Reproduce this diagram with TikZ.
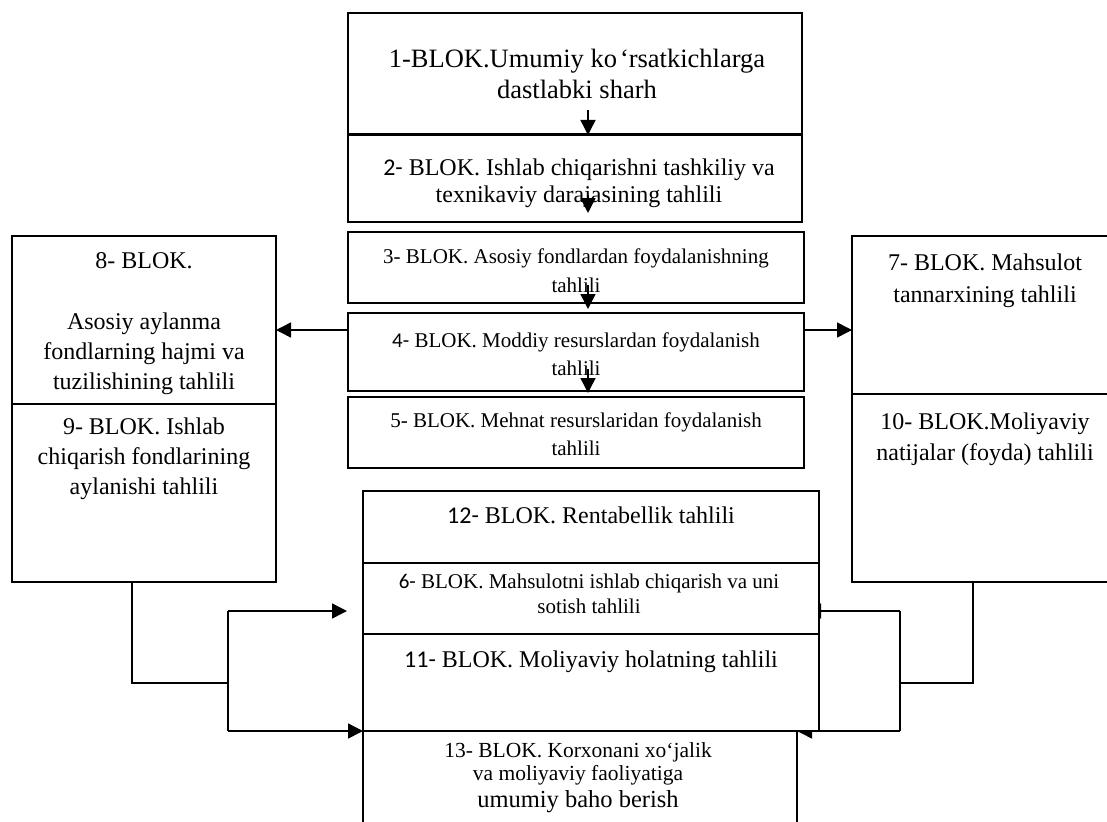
\documentclass[tikz,border=0pt]{standalone}
\usepackage{fontspec}
\setmainfont{Liberation Serif}
\newfontfamily\calfont{Carlito}
\usetikzlibrary{arrows.meta,calc}
\pgfdeclarelayer{bg}
\pgfsetlayers{bg,main}
\newcommand\fsz[2]{\fontsize{#1pt}{#2pt}\selectfont}
\begin{document}
\begin{tikzpicture}[x=1pt,y=-1pt,
  box/.style={draw, line width=1.6pt, fill=white, inner sep=0pt, outer sep=0pt, anchor=north west},
  txt/.style={inner sep=0pt, outer sep=0pt, anchor=north, align=center},
  link/.style={line width=1.5pt},
  arr/.style={line width=1.5pt, -{Triangle[length=15pt,width=15pt]}}]
\useasboundingbox (0,0) rectangle (1107,821);
\clip (0,0) rectangle (1107,821);
% boxes
\node[box, minimum width=454pt, minimum height=121pt] (b1) at (348,13) {};
\node[box, minimum width=454pt, minimum height=87pt] (b2) at (348,135) {};
\node[box, minimum width=456pt, minimum height=71pt] (b3) at (348,232) {};
\node[box, minimum width=456pt, minimum height=78pt] (b4) at (348,313) {};
\node[box, minimum width=456pt, minimum height=71pt] (b5) at (348,397) {};
\node[box, minimum width=264pt, minimum height=168pt] (b8) at (12,236) {};
\node[box, minimum width=264pt, minimum height=178pt] (b9) at (12,404) {};
\node[box, minimum width=270pt, minimum height=158pt] (b7) at (852,236) {};
\node[box, minimum width=270pt, minimum height=188pt] (b10) at (852,394) {};
\node[box, minimum width=456pt, minimum height=72pt] (b12) at (363,491) {};
\node[box, minimum width=456pt, minimum height=71pt] (b6) at (363,563) {};
\node[box, minimum width=456pt, minimum height=97pt] (b11) at (363,634) {};
\node[box, minimum width=434pt, minimum height=109pt] (b13) at (363,731) {};
% texts
\node[txt, font=\fsz{26.5}{31}] (t1) at (577,48.9) {1-BLOK.Umumiy ko\kern3pt‘rsatkichlarga\\dastlabki sharh};
\node[txt, font=\fsz{24}{27}] (t2) at (579,158.6) {{\calfont 2-} BLOK. Ishlab chiqarishni tashkiliy va\\texnikaviy darajasining tahlili};
\node[txt, font=\fsz{21}{29}] (t3) at (576,248.7) {3- BLOK. Asosiy fondlardan foydalanishning\\tahlili};
\node[txt, font=\fsz{21}{28}] (t4) at (576,332.7) {{\calfont 4-} BLOK. Moddiy resurslardan foydalanish\\tahlili};
\node[txt, font=\fsz{21}{28}] (t5) at (576,412.7) {5- BLOK. Mehnat resurslaridan foydalanish\\tahlili};
\node[txt, font=\fsz{24}{30}] (t8) at (144,252.6) {8- BLOK.\\[31pt]Asosiy aylanma\\fondlarning hajmi va\\tuzilishining tahlili};
\node[txt, font=\fsz{24}{30}] (t9) at (144,417.6) {9- BLOK. Ishlab\\chiqarish fondlarining\\aylanishi tahlili};
\node[txt, font=\fsz{24}{32}] (t7) at (985,253.6) {7- BLOK. Mahsulot\\tannarxining tahlili};
\node[txt, font=\fsz{24}{31}] (t10) at (985,412.6) {10- BLOK.Moliyaviy\\natijalar (foyda) tahlili};
\node[txt, font=\fsz{24}{28}] (t12) at (591,506.6) {{\calfont 12-} BLOK. Rentabellik tahlili};
\node[txt, font=\fsz{21}{25}] (t6) at (589,573.7) {{\calfont 6-} BLOK. Mahsulotni ishlab chiqarish va uni\\sotish tahlili};
\node[txt, font=\fsz{24}{28}] (t11) at (591,650.6) {{\calfont 11-} BLOK. Moliyaviy holatning tahlili};
\node[txt, font=\fsz{21.5}{23}] (t13) at (578,742.3) {13- BLOK. Korxonani xo‘jalik\\va moliyaviy faoliyatiga\\[4pt]{\fsz{24.5}{23}umumiy baho berish}};
% coordinates
\coordinate (s12) at (588,110);
\coordinate (s23) at (588,195);
\coordinate (e23) at (588,213);
\coordinate (s34) at (588,285);
\coordinate (e34) at (588,309);
\coordinate (s45) at (588,369);
\coordinate (e45) at (588,393);
\coordinate (h4) at (576,330);
\coordinate (l9) at (132,683);
\coordinate (lj) at (228,683);
\coordinate (lt) at (228,611);
\coordinate (lb) at (228,731);
\coordinate (r10) at (973,683);
\coordinate (rj) at (900,683);
\coordinate (rt) at (900,611);
\coordinate (rb) at (900,731);
% connectors on top
\draw[arr] (s12) -- (s12 |- b2.north);
\draw[arr] (s23) -- (e23);
\draw[arr] (s34) -- (e34);
\draw[arr] (s45) -- (e45);
\draw[arr] (h4 -| b4.west) -- (h4 -| b8.east);
\draw[arr] (h4 -| b4.east) -- (h4 -| b7.west);
\draw[link] (l9 |- b9.south) -- (l9) -- (lj);
\draw[link] (lt) -- (lb);
\draw[arr] (lt) -- ($(lt -| b6.west)+(-16,0)$);
\draw[arr] (lb) -- (lb -| b13.west);
% connectors partly hidden behind boxes
\begin{pgfonlayer}{bg}
\draw[link] (r10 |- b10.south) -- (r10) -- (rj);
\draw[link] (rt) -- (rb);
\draw[arr] (rt) -- ($(rt -| b6.east)+(-13,0)$);
\draw[arr] (rb) -- (rb -| b13.east);
\end{pgfonlayer}
\end{tikzpicture}
\end{document}
